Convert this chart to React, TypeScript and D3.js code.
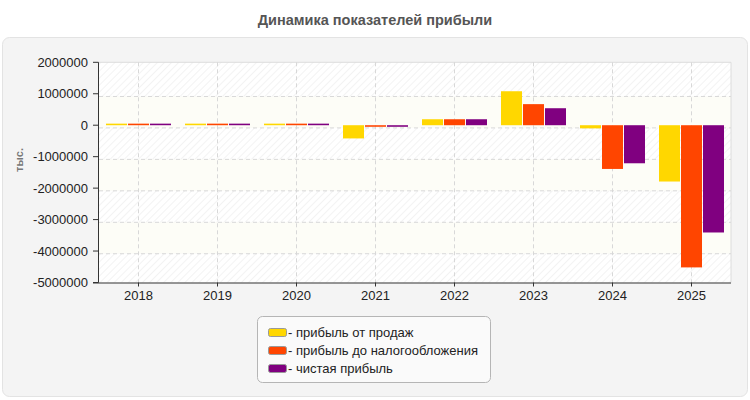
import React from "react";
import * as d3 from "d3";

const years = ["2018", "2019", "2020", "2021", "2022", "2023", "2024", "2025"];
const seriesNames = ["прибыль от продаж", "прибыль до налогообложения", "чистая прибыль"];
const seriesColors = ["#FFD700", "#FF4500", "#800080"];
const salesProfit = [50000, 50000, 50000, -420000, 190000, 1080000, -100000, -1790000];
const preTaxProfit = [50000, 50000, 50000, -50000, 190000, 670000, -1390000, -4520000];
const netProfit = [50000, 50000, 50000, -50000, 190000, 540000, -1210000, -3410000];
const yTicks = [2000000, 1000000, 0, -1000000, -2000000, -3000000, -4000000, -5000000];
const title = "Динамика показателей прибыли";
const yTitle = "тыс.";

const W = 750;
const H = 400;
const L = 99;
const R = 731;
const T = 62.3;
const B = 282.5;
const GRID_SHIFT = 2.7;

export default function App() {
  const series = [salesProfit, preTaxProfit, netProfit];
  const x0 = d3.scaleBand<string>().domain(years).range([L, R]).padding(0);
  const bw = x0.bandwidth();
  const x1 = d3
    .scaleBand<number>()
    .domain([0, 1, 2])
    .range([bw * 0.0886, bw * 0.9114])
    .paddingInner(0.045)
    .paddingOuter(0);
  const y = d3.scaleLinear().domain([-5000000, 2000000]).range([B, T]);
  const font = "'Liberation Sans', Arial, sans-serif";

  const gridYs = yTicks.map((t) => y(t) + GRID_SHIFT).filter((v) => v > T + 5 && v < B - 5);
  const edges = [T, ...gridYs.sort((a, b) => a - b), B];
  const bands = edges.slice(0, -1).map((e, i) => ({ y0: e, y1: edges[i + 1], hatch: i % 2 === 0 }));

  return (
    <svg
      width={W}
      height={H}
      style={{ position: "absolute", left: 0, top: 0, fontFamily: font }}
    >
      <defs>
        <pattern id="hatch" patternUnits="userSpaceOnUse" width="5" height="5" patternTransform="rotate(45)">
          <rect width="5" height="5" fill="#ffffff" />
          <line x1="0" y1="0" x2="0" y2="5" stroke="#ececec" strokeWidth="1.2" />
        </pattern>
      </defs>
      <rect x={0} y={0} width={W} height={H} fill="#ffffff" />
      <text x={W / 2} y={25} textAnchor="middle" fontSize={14.5} fontWeight="bold" fill="#555">
        {title}
      </text>
      <rect x={2.5} y={37.5} width={745} height={359} rx={7} fill="#f4f4f4" stroke="#e3e3e3" />

      {bands.map((b, i) => (
        <rect
          key={i}
          x={L}
          y={b.y0}
          width={R - L}
          height={b.y1 - b.y0}
          fill={b.hatch ? "url(#hatch)" : "#fdfdf7"}
        />
      ))}
      <line x1={L} y1={T} x2={R} y2={T} stroke="#dcdcdc" />
      <line x1={R} y1={T} x2={R} y2={B} stroke="#dcdcdc" />

      {gridYs.map((gy, i) => (
        <line key={i} x1={L} x2={R} y1={gy} y2={gy} stroke="#d8d8d8" strokeDasharray="4,3" />
      ))}
      {years.map((yr) => {
        const cx = (x0(yr) as number) + bw / 2;
        return <line key={yr} x1={cx} x2={cx} y1={T} y2={B} stroke="#d8d8d8" strokeDasharray="4,3" />;
      })}

      {years.map((yr, i) => (
        <g key={yr}>
          {series.map((s, j) => {
            const v = s[i];
            const yv = y(v);
            const y0 = y(0);
            return (
              <rect
                key={j}
                x={(x0(yr) as number) + (x1(j) as number)}
                y={Math.min(yv, y0)}
                width={x1.bandwidth()}
                height={Math.abs(yv - y0)}
                fill={seriesColors[j]}
              />
            );
          })}
        </g>
      ))}

      <line x1={L - 0.5} x2={L - 0.5} y1={T} y2={B} stroke="#333" />
      <line x1={L - 6} x2={R} y1={B + 0.5} y2={B + 0.5} stroke="#333" />
      {yTicks.map((t) => (
        <g key={t}>
          <line x1={L - 6} x2={L - 0.5} y1={y(t)} y2={y(t)} stroke="#333" />
          <text x={L - 11} y={y(t) + 4.5} textAnchor="end" fontSize={13} fill="#222">
            {t}
          </text>
        </g>
      ))}
      {years.map((yr) => {
        const cx = (x0(yr) as number) + bw / 2;
        return (
          <g key={yr}>
            <line x1={cx} x2={cx} y1={B} y2={B + 4} stroke="#333" />
            <text x={cx} y={300} textAnchor="middle" fontSize={13} fill="#222">
              {yr}
            </text>
          </g>
        );
      })}
      <text
        transform={`translate(23,160) rotate(-90)`}
        textAnchor="middle"
        fontSize={11}
        fontWeight="bold"
        fill="#777"
      >
        {yTitle}
      </text>

      <rect x={257.5} y={316.5} width={233} height={66} rx={5} fill="#fafafa" stroke="#b5b5b5" />
      {seriesNames.map((n, i) => (
        <g key={n}>
          <rect
            x={268.5}
            y={328.5 + i * 18}
            width={18}
            height={8}
            rx={2}
            fill={seriesColors[i]}
            stroke="#999"
          />
          <text x={288} y={337 + i * 18} fontSize={13} fill="#222">
            {"- " + n}
          </text>
        </g>
      ))}
    </svg>
  );
}
